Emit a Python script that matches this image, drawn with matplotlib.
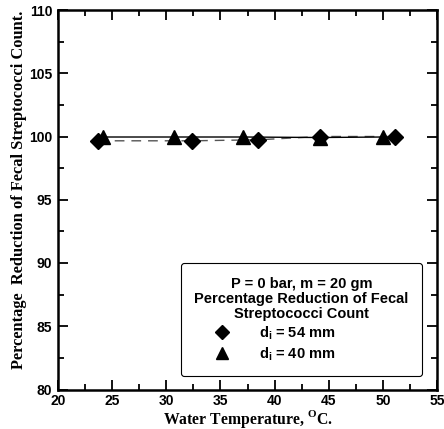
import matplotlib
matplotlib.use("Agg")
import matplotlib.pyplot as plt
from matplotlib.ticker import MultipleLocator
from matplotlib.lines import Line2D

plt.rcParams['font.family'] = ['Liberation Sans', 'DejaVu Sans']
plt.rcParams['mathtext.fontset'] = 'custom'
plt.rcParams['mathtext.rm'] = 'Liberation Serif:bold'
plt.rcParams['mathtext.it'] = 'Liberation Sans:bold'

# data
temp_54 = [23.7, 32.4, 38.5, 44.2, 51.1]
red_54 = [99.66, 99.66, 99.74, 100.0, 100.0]
temp_40 = [24.2, 30.7, 37.1, 44.2, 50.0]
red_40 = [99.96, 99.96, 99.96, 99.92, 99.96]
xticks = [20, 25, 30, 35, 40, 45, 50, 55]
yticks = [80, 85, 90, 95, 100, 105, 110]

fig = plt.figure(figsize=(4.44, 4.29), dpi=100)
ax = fig.add_axes([58/444, 1 - 389.5/429, (437 - 58)/444, (389.5 - 10)/429])

ax.plot(temp_54, red_54, color='#555555', lw=1.0, ls=(0, (7, 5)), zorder=2)
ax.plot(temp_40, red_40, color='black', lw=1.0, ls='-', zorder=2)
ax.plot(temp_54, red_54, ls='none', marker='D', ms=8.5, color='black', zorder=3)
ax.plot(temp_40, red_40, ls='none', marker='^', ms=10, color='black', zorder=3)

ax.set_xlim(20, 55)
ax.set_ylim(80, 110)
ax.set_xticks(xticks)
ax.set_yticks(yticks)
ax.xaxis.set_minor_locator(MultipleLocator(2.5))
ax.yaxis.set_minor_locator(MultipleLocator(2.5))
ax.tick_params(which='both', direction='in', top=True, right=True, width=1.3)
ax.tick_params(which='major', length=7, labelsize=10, pad=4)
ax.tick_params(axis='x', which='major', pad=3.5)
ax.tick_params(which='minor', length=4)
for lab in ax.get_xticklabels() + ax.get_yticklabels():
    lab.set_fontweight('bold')
for s in ax.spines.values():
    s.set_linewidth(1.8)

ax.set_xlabel('Water Temperature, $^{\\mathrm{O}}$C.', family='Liberation Serif',
              fontweight='bold', fontsize=11.3, labelpad=0)
ax.set_ylabel('Percentage  Reduction of Fecal Streptococci Count.', family='Liberation Serif',
              fontweight='bold', fontsize=11.8)
ax.yaxis.set_label_coords(-0.082, 0.526)

handles = [Line2D([], [], ls='none', marker='D', ms=7, color='black'),
           Line2D([], [], ls='none', marker='^', ms=8.5, color='black')]
labels = ['d$_{\\mathit{i}}$ = 54 mm', 'd$_{\\mathit{i}}$ = 40 mm']
leg = ax.legend(handles, labels,
                title='P = 0 bar, m = 20 gm\nPercentage Reduction of Fecal\nStreptococci Count',
                loc='lower right', bbox_to_anchor=(0.960, 0.0356),
                prop={'weight': 'bold', 'size': 10.5},
                title_fontproperties={'weight': 'bold', 'size': 10.5},
                frameon=True, fancybox=True, edgecolor='black', framealpha=1,
                handletextpad=0.65, borderpad=0.9, labelspacing=0.25, handlelength=3.8,
                borderaxespad=0)
leg._legend_box.align = 'left'
leg.get_title().set_multialignment('center')
leg.get_title().set_linespacing(1.1)
leg.get_frame().set_linewidth(0.8)

fig.savefig('out.png', dpi=100)
